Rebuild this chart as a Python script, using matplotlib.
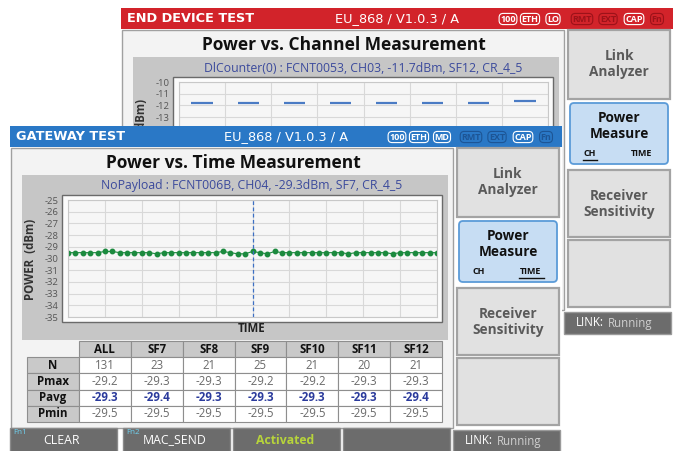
import matplotlib
matplotlib.use("Agg")
import matplotlib.pyplot as plt
from matplotlib.patches import Rectangle, FancyBboxPatch
from matplotlib.ticker import MultipleLocator

plt.rcParams["font.family"] = ["Open Sans", "DejaVu Sans"]

W, H = 677, 451

# front screen: power vs time (one point per received packet)
time_power = [
    -29.5, -29.5, -29.5, -29.5, -29.5, -29.4, -29.4, -29.5, -29.5, -29.5,
    -29.5, -29.5, -29.6, -29.5, -29.5, -29.5, -29.5, -29.5, -29.5, -29.5,
    -29.5, -29.4, -29.5, -29.6, -29.6, -29.4, -29.5, -29.6, -29.4, -29.5,
    -29.5, -29.5, -29.5, -29.5, -29.5, -29.5, -29.5, -29.5, -29.6, -29.5,
    -29.5, -29.5, -29.5, -29.5, -29.6, -29.5, -29.5, -29.5, -29.5, -29.5,
    -29.5,
]
time_marker = 25
power_ticks = [-25, -26, -27, -28, -29, -30, -31, -32, -33, -34, -35]

# back screen: power vs channel
channel_power = [-11.8, -11.8, -11.8, -11.8, -11.8, -11.8, -11.8, -11.65]
channel_ticks = [-10, -11, -12, -13, -14, -15, -16, -17, -18, -19, -20]
channel_shown = [-10, -11, -12, -13]   # labels not hidden by the front screen

# statistics table
table_cols = ["ALL", "SF7", "SF8", "SF9", "SF10", "SF11", "SF12"]
table_rows = ["N", "Pmax", "Pavg", "Pmin"]
n_count = ["131", "23", "21", "25", "21", "20", "21"]
p_max = ["-29.2", "-29.3", "-29.3", "-29.2", "-29.2", "-29.3", "-29.3"]
p_avg = ["-29.3", "-29.4", "-29.3", "-29.3", "-29.3", "-29.3", "-29.4"]
p_min = ["-29.5", "-29.5", "-29.5", "-29.5", "-29.5", "-29.5", "-29.5"]

fig = plt.figure(figsize=(W / 100, H / 100), dpi=100)


def px_axes(z):
    ax = fig.add_axes([0, 0, 1, 1], zorder=z)
    ax.set_xlim(0, W)
    ax.set_ylim(H, 0)
    ax.axis("off")
    return ax


def box_axes(x0, y0, x1, y1, z):
    return fig.add_axes([x0 / W, 1 - y1 / H, (x1 - x0) / W, (y1 - y0) / H], zorder=z)


def draw_screen(ax, ox, oy, head, dim, name, mode, title, subtitle, sel, front=True):
    def R(x, y, w, h, **kw):
        ax.add_patch(Rectangle((ox + x, oy + y), w, h, **kw))

    def T(x, y, s, **kw):
        kw.setdefault("ha", "center")
        kw.setdefault("va", "center")
        ax.text(ox + x, oy + y, s, **kw)

    R(0, 0, 552, 330, fc="white", ec="none")
    R(0, 0, 552, 21, fc=head, ec="none")
    T(6, 11, name, ha="left", color="white", weight="bold", fontsize=9.3,
      family=["DejaVu Sans"])
    T(276, 11, "EU_868 / V1.0.3 / A", color="white", fontsize=9.3, family=["DejaVu Sans"])
    icons = [("100", 387, "white"), ("ETH", 409, "white"), (mode, 432, "white"),
             ("RMT", 461, dim), ("EXT", 487, dim), ("CAP", 513, "white"), ("Fn", 536, dim)]
    for s, x, c in icons:
        T(x, 11, s, color=c, weight="bold", fontsize=6.5,
          bbox=dict(boxstyle="round,pad=0.12,rounding_size=0.45", fc="none", ec=c, lw=0.8))

    # main panel
    R(1, 22, 442, 280, fc="#f3f3f3", ec="#a0a0a0", lw=1)
    T(223, 37, title, fontsize=12.5, weight="bold", color="#111111")
    R(12, 49, 426, 165, fc="#c6c6c6", ec="none")
    T(242, 60, subtitle, color="#3b4a9c", fontsize=8.8)
    R(52, 69, 380, 127, fc="#fbfbfb", ec="#6a6a6a", lw=1)
    if front:
        T(20, 133, "POWER  (dBm)", rotation=90, weight="bold", fontsize=8.3, color="#333333")
        T(242, 203, "TIME", weight="bold", fontsize=8.3, color="#222222")
    else:
        # only the top of the axis label shows above the front screen
        T(20, 90, "(dBm)", rotation=90, weight="bold", fontsize=8.3, color="#333333", va="top")

    # side buttons
    for y, h, lab in [(22, 69, "Link\nAnalyzer"), (162, 67, "Receiver\nSensitivity"), (232, 67, "")]:
        R(447, y, 102, h, fc="#e1e1e1", ec="#a3a3a3", lw=1.6)
        T(498, y + 34, lab, color="#5a5a5a", weight="bold", fontsize=9.8, linespacing=1.25)
    ax.add_patch(FancyBboxPatch((ox + 449, oy + 95), 98, 61,
                                boxstyle="round,pad=0,rounding_size=4",
                                fc="#c7ddf3", ec="#5b9bd8", lw=1.3))
    T(498, 118, "Power\nMeasure", weight="bold", fontsize=9.8, color="#111111", linespacing=1.2)
    T(469, 146, "CH", weight="bold", fontsize=6.5, color="#111111")
    T(521, 146, "TIME", weight="bold", fontsize=6.5, color="#111111")
    ux = {"CH": (462, 476), "TIME": (509, 534)}[sel]
    ax.plot([ox + ux[0], ox + ux[1]], [oy + 152, oy + 152], color="#111111", lw=1)

    R(443, 304, 107, 22, fc="#6c6c6c", ec="#9a9a9a", lw=1)
    T(483, 315, "LINK:", color="white", fontsize=8.3, ha="right")
    T(487, 315, "Running", color="#cfcfcf", fontsize=8.3, ha="left")

    if not front:
        return
    # function key bar
    for x, fn, lab, col in [(0, "Fn1", "CLEAR", "white"), (113, "Fn2", "MAC_SEND", "white"),
                            (223, "", "Activated", "#b7d43b"), (333, "", "", "white")]:
        R(x, 302, 107, 24, fc="#6c6c6c", ec="#8a8a8a", lw=1)
        T(x + 52, 314, lab, color=col, fontsize=8.8,
          weight="bold" if col != "white" else "normal")
        if fn:
            T(x + 3, 306, fn, color="#6fd3f2", fontsize=5.8, ha="left")


def style_plot(ax, ticks, shown):
    ax.set_facecolor("#f6f6f6")
    ax.set_yticks(ticks)
    ax.set_yticklabels([str(t) if t in shown else "" for t in ticks])
    ax.set_ylim(min(ticks), max(ticks))
    ax.tick_params(length=0, labelsize=6.8, labelcolor="#555555", pad=7,
                   labelbottom=False)
    ax.grid(True, color="#d8d8d8", lw=0.8)
    for s in ax.spines.values():
        s.set_color("#c8c8c8")


# back screen (END DEVICE TEST)
ox_b, oy_b = 121, 8
ax_bui = px_axes(0)
draw_screen(ax_bui, ox_b, oy_b, "#d2232a", "#9c1219", "END DEVICE TEST", "LO",
            "Power vs. Channel Measurement",
            "DlCounter(0) : FCNT0053, CH03, -11.7dBm, SF12, CR_4_5", "CH", front=False)
ax_bp = box_axes(ox_b + 58, oy_b + 74, ox_b + 427, oy_b + 191, 1)
style_plot(ax_bp, channel_ticks, channel_shown)
ch = list(range(len(channel_power)))
ax_bp.hlines(channel_power, [c - 0.23 for c in ch], [c + 0.23 for c in ch],
             color="#4a7bc4", lw=1.6)
ax_bp.set_xlim(-0.5, len(ch) - 0.5)
ax_bp.set_xticks([c - 0.5 for c in ch] + [len(ch) - 0.5])

# front screen (GATEWAY TEST)
ox_f, oy_f = 10, 126
ax_fui = px_axes(2)
draw_screen(ax_fui, ox_f, oy_f, "#2a78c6", "#1d5595", "GATEWAY TEST", "MD",
            "Power vs. Time Measurement",
            "NoPayload : FCNT006B, CH04, -29.3dBm, SF7, CR_4_5", "TIME")
ax_fp = box_axes(ox_f + 58, oy_f + 74, ox_f + 427, oy_f + 191, 3)
style_plot(ax_fp, power_ticks, power_ticks)
idx = list(range(len(time_power)))
ax_fp.plot(idx, time_power, color="#1b8a3e", lw=0.8, marker="o", ms=3.2)
ax_fp.axvline(time_marker, color="#3c6fc4", lw=0.9, ls=(0, (3, 2)))
ax_fp.set_xlim(0, len(time_power) - 1)
ax_fp.xaxis.set_major_locator(MultipleLocator(5))

# statistics table
ax_tab = box_axes(27, 341, 442, 422, 3)
ax_tab.axis("off")
cells = [[""] + table_cols] + [
    [r] + v for r, v in zip(table_rows, [n_count, p_max, p_avg, p_min])
]
tab = ax_tab.table(cellText=cells, bbox=[0, 0, 1, 1], cellLoc="center")
tab.auto_set_font_size(False)
tab.set_fontsize(8.3)
for (r, c), cell in tab.get_celld().items():
    cell.set_edgecolor("#8e8e8e")
    cell.set_linewidth(0.8)
    txt = cell.get_text()
    if r == 0 and c == 0:
        cell.set_visible(False)
    elif r == 0 or c == 0:
        cell.set_facecolor("#c9c9c9")
        txt.set_weight("bold")
        txt.set_color("#111111")
    else:
        cell.set_facecolor("white")
        txt.set_color("#6a6a6a")
        if table_rows[r - 1] == "Pavg":
            txt.set_color("#2a3a9c")
            txt.set_weight("bold")

fig.savefig("out.png", dpi=100)
